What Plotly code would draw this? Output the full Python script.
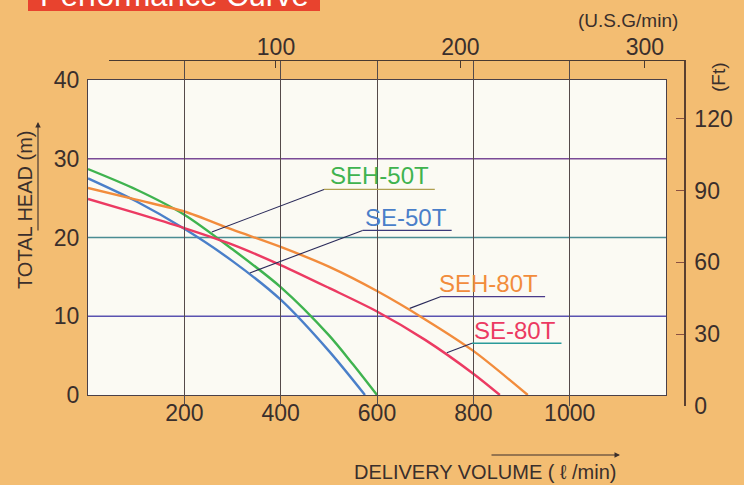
import plotly.graph_objects as go

# ---------------- data ----------------
flow_ticks = [200, 400, 600, 800, 1000]
flow_labels = ["200", "400", "600", "800", "1000"]
head_ticks = [0, 10, 20, 30, 40]
head_labels = ["0", "10", "20", "30", "40"]
ft_ticks = [0, 30, 60, 90, 120]
ft_labels = ["0", "30", "60", "90", "120"]
usg_ticks = [100, 200, 300]
usg_labels = ["100", "200", "300"]

series_names = ["SEH-50T", "SE-50T", "SEH-80T", "SE-80T"]

seh50_flow = [0, 100, 200, 300, 400, 500, 550, 600]
seh50_head = [28.7, 26.1, 22.9, 18.5, 13.7, 7.6, 3.9, 0]

se50_flow = [0, 100, 200, 300, 400, 500, 575]
se50_head = [27.5, 24.6, 21.1, 17.0, 12.1, 5.6, 0]

seh80_flow = [0, 100, 200, 300, 400, 500, 600, 700, 800, 913]
seh80_head = [26.3, 24.8, 23.3, 21.0, 18.8, 16.3, 13.2, 9.6, 5.6, 0]

se80_flow = [0, 100, 200, 300, 400, 500, 600, 700, 800, 855]
se80_head = [24.9, 23.1, 21.2, 19.1, 16.5, 13.6, 10.6, 7.0, 2.7, 0]

# ---------------- styling / layout ----------------
W, H = 744, 485
L_PX, R_PX, T_PX, B_PX = 88, 685, 60, 406      # paper area in pixels
PW, PH = R_PX - L_PX, B_PX - T_PX

def px(x):
    return (x - L_PX) / PW

def py(y):
    return (B_PX - y) / PH

FONT = "Liberation Sans, Arial, sans-serif"
TXT = "#3a2f2c"
BG = "#f3bd72"
PLOT_BG = "#fbfaf3"

colors = {"SEH-50T": "#3fb34f", "SE-50T": "#4a7fc9", "SEH-80T": "#f28c3c", "SE-80T": "#ec3a62"}

fig = go.Figure()

curves = [
    ("SEH-50T", seh50_flow, seh50_head),
    ("SE-50T", se50_flow, se50_head),
    ("SEH-80T", seh80_flow, seh80_head),
    ("SE-80T", se80_flow, se80_head),
]
for name, fx, fy in curves:
    fig.add_trace(go.Scatter(x=fx, y=fy, mode="lines", name=name,
                             line=dict(color=colors[name], width=2.4, shape="spline", smoothing=0.8),
                             showlegend=False, hoverinfo="skip"))

# helper traces so the secondary axes are drawn
fig.add_trace(go.Scatter(x=[None], y=[None], xaxis="x2", yaxis="y", showlegend=False, hoverinfo="skip"))
fig.add_trace(go.Scatter(x=[None], y=[None], xaxis="x", yaxis="y2", showlegend=False, hoverinfo="skip"))

tickfont = dict(family=FONT, size=23, color=TXT)

fig.update_layout(
    width=W, height=H,
    margin=dict(l=L_PX, r=W - R_PX, t=T_PX, b=H - B_PX, pad=0),
    paper_bgcolor=BG,
    plot_bgcolor="rgba(0,0,0,0)",
    template="none",
    font=dict(family=FONT, color=TXT),
    xaxis=dict(domain=[0, px(666)], range=[0, 1200], tickvals=flow_ticks, ticktext=flow_labels,
               showgrid=True, gridcolor="#554a4a", gridwidth=1.2, zeroline=False,
               showline=True, linecolor="#4a4048", linewidth=1.3, mirror=True,
               ticks="", tickfont=tickfont, ticklabelstandoff=-3, anchor="y"),
    yaxis=dict(domain=[py(395), py(80)], range=[0, 40], tickvals=head_ticks, ticktext=head_labels,
               showgrid=False, zeroline=False,
               showline=True, linecolor="#4a4048", linewidth=1.3, mirror=True,
               ticks="", tickfont=tickfont, ticklabelstandoff=3, anchor="x"),
    xaxis2=dict(domain=[px(109), 1], range=[9.49, 321.7], tickvals=usg_ticks, ticktext=usg_labels,
                side="top", anchor="free", position=1, showgrid=False, zeroline=False,
                showline=True, linecolor="#4a3a30", linewidth=1.3,
                ticks="inside", ticklen=7, tickcolor="#4a3a30", tickwidth=1.2,
                tickfont=tickfont, ticklabelstandoff=-4),
    yaxis2=dict(domain=[0, 1], range=[0, 144.6], tickvals=ft_ticks, ticktext=ft_labels,
                side="right", anchor="free", position=1, showgrid=False, zeroline=False,
                showline=True, linecolor="#5a4030", linewidth=1.5,
                ticks="inside", ticklen=8, tickcolor="#8a5040", tickwidth=1.2,
                tickfont=tickfont, ticklabelstandoff=4),
)

shapes = []
# plot background
shapes.append(dict(type="rect", xref="x", yref="y", x0=0, x1=1200, y0=0, y1=40,
                   fillcolor=PLOT_BG, line=dict(width=0), layer="below"))
# coloured horizontal grid lines
for yv, c in [(10, "#5a52b0"), (20, "#4a8c92"), (30, "#7a4a96")]:
    shapes.append(dict(type="line", xref="x", yref="y", x0=0, x1=1200, y0=yv, y1=yv,
                       line=dict(color=c, width=1.3), layer="below"))
# title box
shapes.append(dict(type="rect", xref="paper", yref="paper", x0=px(28), x1=px(320), y0=py(11), y1=py(-30),
                   fillcolor="#e8432e", line=dict(width=0), layer="above"))

# curve label underline + leader lines (data coordinates)
labels = [
    # name, text center, underline (x0,x1,y), leader end, underline colour
    ("SEH-50T", (606, 27.9), (490, 720, 26.1), (257, 20.7), "#b0a050"),
    ("SE-50T", (660, 22.6), (570, 755, 20.9), (336, 15.5), "#3a3a7a"),
    ("SEH-80T", (832, 14.2), (733, 949, 12.5), (668, 11.0), "#4a3a8a"),
    ("SE-80T", (886, 8.25), (797, 983, 6.57), (745, 5.37), "#2a9a9a"),
]
annotations = []
for name, (tx, ty), (ux0, ux1, uy), (lx, ly), uc in labels:
    shapes.append(dict(type="line", xref="x", yref="y", x0=ux0, x1=ux1, y0=uy, y1=uy,
                       line=dict(color=uc, width=1.3), layer="above"))
    shapes.append(dict(type="line", xref="x", yref="y", x0=ux0, x1=lx, y0=uy, y1=ly,
                       line=dict(color="#2a2a5a", width=1.1), layer="above"))
    annotations.append(dict(x=tx, y=ty, xref="x", yref="y", text=name, showarrow=False,
                            xanchor="center", yanchor="middle",
                            font=dict(family=FONT, size=24, color=colors[name])))

annotations += [
    dict(x=px(174), y=py(14.6), xref="paper", yref="paper", text="Performance Curve",
         showarrow=False, yanchor="bottom", xanchor="center",
         font=dict(family=FONT, size=31, color="white")),
    dict(x=px(25), y=py(210), xref="paper", yref="paper", text="TOTAL HEAD (m)", textangle=-90,
         showarrow=False, xanchor="center", yanchor="middle",
         font=dict(family=FONT, size=20, color=TXT)),
    dict(x=px(38), y=py(122), xref="paper", yref="paper", text="", showarrow=True,
         ax=0, ay=110, arrowhead=2, arrowsize=1, arrowwidth=1.1, arrowcolor=TXT),
    dict(x=px(485), y=py(472), xref="paper", yref="paper", text="DELIVERY VOLUME ( ℓ /min)",
         showarrow=False, xanchor="center", yanchor="middle",
         font=dict(family=FONT, size=20, color=TXT)),
    dict(x=px(620), y=py(455), xref="paper", yref="paper", text="", showarrow=True,
         ax=-130, ay=0, arrowhead=2, arrowsize=1, arrowwidth=1.1, arrowcolor=TXT),
    dict(x=px(628), y=py(20), xref="paper", yref="paper", text="(U.S.G/min)",
         showarrow=False, xanchor="center", yanchor="middle",
         font=dict(family=FONT, size=19, color=TXT)),
    dict(x=px(718), y=py(77), xref="paper", yref="paper", text="(Ft)", textangle=-90,
         showarrow=False, xanchor="center", yanchor="middle",
         font=dict(family=FONT, size=19, color=TXT)),
]

fig.update_layout(shapes=shapes, annotations=annotations)

fig.write_html("out.html", config={"displayModeBar": False},
               post_script="document.body.style.margin='0px';")
